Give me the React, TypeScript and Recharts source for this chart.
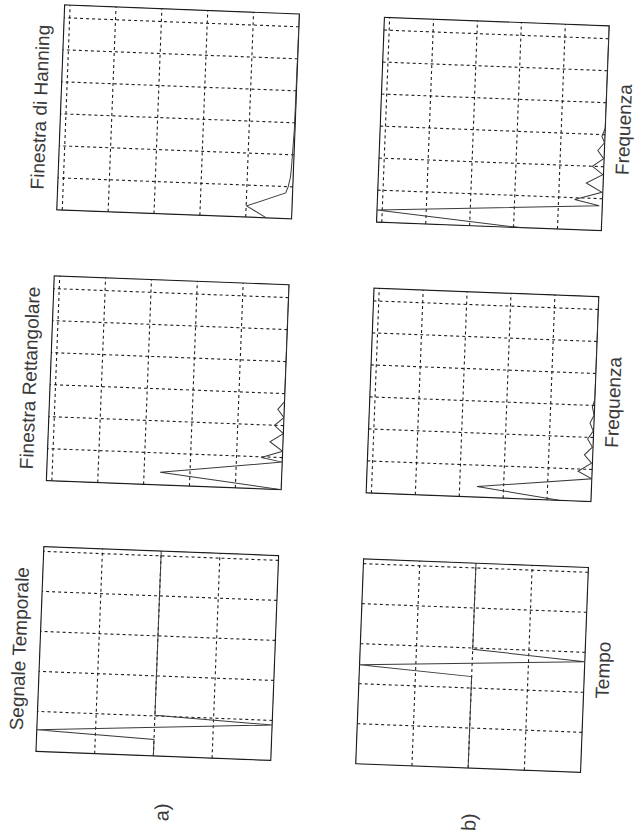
import { LineChart, Line, XAxis, YAxis, ReferenceLine, ReferenceArea } from "recharts";

// time signals (sample index, amplitude)
const timeAX = [0, 82, 108, 177, 203, 1024];
const timeAY = [0, 0, 1, -1, 0, 0];
const timeBX = [0, 457, 495, 553, 594, 1024];
const timeBY = [0, 0, 1, -1, 0, 0];

// spectra (bin, magnitude)
const rectAX = [0, 4, 8.6, 9.8, 12, 14.8, 17.5, 20, 22.5, 25, 27.5, 64];
const rectAY = [0, 530, 0, 92, 0, 57, 0, 40, 0, 28, 0, 0];
const hannAX = [0, 3.5, 8, 10, 13, 16, 20, 24, 28, 64];
const hannAY = [110, 198, 30, 20, 12, 9, 7, 5, 3, 0];
const rectBX = [0, 3.3, 7.1, 9.3, 12, 14.5, 17, 19.5, 22, 24.5, 27, 29.5, 32, 64];
const rectBY = [145, 521, 0, 64, 4, 38, 3, 26, 2, 18, 1, 10, 0, 0];
const hannBX = [0, 3.8, 7.8, 9.4, 12, 14.7, 17.5, 20, 22.5, 25, 27.5, 29.5, 32, 64];
const hannBY = [371, 1024, 14, 127, 4, 77, 3, 52, 2, 30, 1, 14, 0, 0];

const timeTicks = [200, 400, 600, 800, 1000];
const ampTicks = [-0.5, 0, 0.5];
const binTicks = [10, 20, 30, 40, 50, 60];
const magTicks = [200, 400, 600, 800, 1000];

const zip = (xs: number[], ys: number[]) => xs.map((x, i) => ({ x, y: ys[i] }));

const INK = "#1e1e1e";

function Panel({ data, xMax, xTicks, yDomain, yTicks, w, h, left, top }: any) {
  return (
    <div style={{ position: "absolute", left: left - 1, top: top - 1 }}>
      <LineChart width={w + 2} height={h + 2} data={data} margin={{ top: 1, right: 1, bottom: 1, left: 1 }}>
        <XAxis dataKey="x" type="number" domain={[0, xMax]} hide allowDataOverflow />
        <YAxis type="number" domain={yDomain} hide allowDataOverflow />
        {xTicks.map((t: number) => (
          <ReferenceLine key={"x" + t} x={t} stroke={INK} strokeWidth={1.1} strokeDasharray="3 3" />
        ))}
        {yTicks.map((t: number) => (
          <ReferenceLine key={"y" + t} y={t} stroke={INK} strokeWidth={1.1} strokeDasharray="3 3" />
        ))}
        <ReferenceArea x1={0} x2={xMax} y1={yDomain[0]} y2={yDomain[1]} fill="none" fillOpacity={0} stroke={INK} strokeWidth={1.2} />
        <Line dataKey="y" type="linear" stroke="#3a3a3a" strokeWidth={1} dot={false} isAnimationActive={false} />
      </LineChart>
    </div>
  );
}

function Label({ text, u, v, size = 19 }: { text: string; u: number; v: number; size?: number }) {
  return (
    <div
      style={{
        position: "absolute",
        left: u - 150,
        top: v - size / 2 - 2,
        width: 300,
        textAlign: "center",
        fontFamily: "'Liberation Sans', Arial, sans-serif",
        fontSize: size,
        lineHeight: `${size + 4}px`,
        color: "#3a3a3a",
        whiteSpace: "nowrap",
      }}
    >
      {text}
    </div>
  );
}

export default function App() {
  const cols = [71.5, 342.5, 613.5];
  const pw = 205;
  return (
    <div style={{ position: "absolute", left: 0, top: 0, width: 636, height: 834, overflow: "hidden", background: "#fff" }}>
      <div
        style={{
          position: "absolute",
          left: -99,
          top: 99,
          width: 834,
          height: 636,
          transform: "rotate(-87.8deg)",
          transformOrigin: "50% 50%",
        }}
      >
        <Label text="Segnale Temporale" u={174} v={28} />
        <Label text="Finestra Rettangolare" u={445} v={28} />
        <Label text="Finestra di Hanning" u={716} v={28} />

        <Panel data={zip(timeAX, timeAY)} xMax={1024} xTicks={timeTicks} yDomain={[-1, 1]} yTicks={ampTicks} w={pw} h={235} left={cols[0]} top={49} />
        <Panel data={zip(rectAX, rectAY)} xMax={64} xTicks={binTicks} yDomain={[0, 1024]} yTicks={magTicks} w={pw} h={235} left={cols[1]} top={49} />
        <Panel data={zip(hannAX, hannAY)} xMax={64} xTicks={binTicks} yDomain={[0, 1024]} yTicks={magTicks} w={pw} h={235} left={cols[2]} top={49} />

        <Panel data={zip(timeBX, timeBY)} xMax={1024} xTicks={timeTicks} yDomain={[-1, 1]} yTicks={ampTicks} w={pw} h={225} left={cols[0]} top={369} />
        <Panel data={zip(rectBX, rectBY)} xMax={64} xTicks={binTicks} yDomain={[0, 1024]} yTicks={magTicks} w={pw} h={225} left={cols[1]} top={369} />
        <Panel data={zip(hannBX, hannBY)} xMax={64} xTicks={binTicks} yDomain={[0, 1024]} yTicks={magTicks} w={pw} h={225} left={cols[2]} top={369} />

        <Label text="Tempo" u={175} v={612} />
        <Label text="Frequenza" u={443} v={612} />
        <Label text="Frequenza" u={716} v={612} />

        <Label text="a)" u={16} v={177} size={20} />
        <Label text="b)" u={18} v={484} size={20} />
      </div>
    </div>
  );
}
